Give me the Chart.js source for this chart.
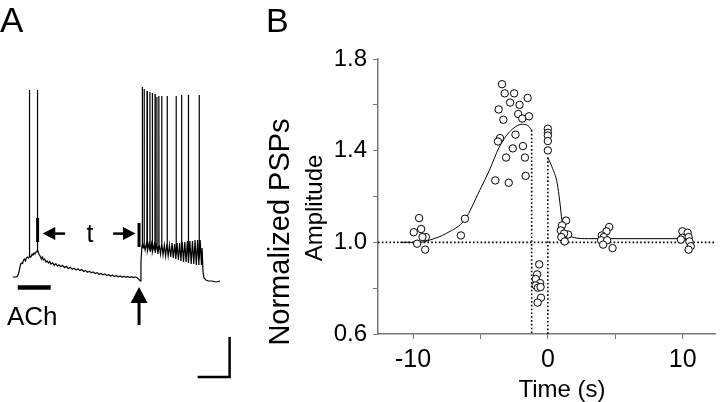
<!DOCTYPE html>
<html>
<head>
<meta charset="utf-8">
<script src="https://cdn.jsdelivr.net/npm/chart.js@4.4.1/dist/chart.umd.min.js"></script>
<style>
  html, body { margin: 0; padding: 0; background: #fff; }
  #wrap { position: relative; width: 720px; height: 402px; overflow: hidden; }
  canvas { position: absolute; top: 0; }
  #traceChart { left: 0; }
  #pspChart { left: 250px; }
</style>
</head>
<body>
<div id="wrap">
  <canvas id="traceChart" width="250" height="402"></canvas>
  <canvas id="pspChart" width="470" height="402"></canvas>
</div>
<script>
/* ---------- Panel A: membrane potential trace (s, mV) ---------- */
const traceT = [
  0.02, 0.09, 0.16, 0.2, 0.23, 0.27, 0.3, 0.33, 0.36, 0.39, 0.42, 0.45, 0.48, 0.52, 0.56, 0.59, 0.63, 0.66, 0.69, 0.72, 0.75, 0.78,
  0.81, 0.84, 0.88, 0.92, 0.95, 0.98, 1.02, 1.06, 1.1, 1.14, 1.18, 1.22, 1.27, 1.32, 1.37, 1.42, 1.47, 1.52, 1.58, 1.64, 1.7, 1.76,
  1.82, 1.88, 1.94, 2.0, 2.06, 2.12, 2.18, 2.24, 2.3, 2.36, 2.42, 2.48, 2.54, 2.6, 2.66, 2.72, 2.78, 2.84, 2.9, 2.96, 3.02, 3.08,
  3.14, 3.2, 3.26, 3.32, 3.38, 3.44, 3.5, 3.56, 3.62, 3.68, 3.74, 3.8, 3.86, 3.92, 3.97, 4.01, 4.03, 4.06,
  4.08, 4.1, 4.12, 4.16, 4.2, 4.24, 4.28, 4.32, 4.36, 4.4, 4.44, 4.48, 4.52, 4.56, 4.6, 4.64, 4.68, 4.72, 4.76, 4.8, 4.84, 4.88,
  4.92, 4.96, 5.0, 5.04, 5.08, 5.12, 5.16, 5.2, 5.24, 5.28, 5.32, 5.36, 5.4, 5.44, 5.48, 5.52, 5.56, 5.6, 5.64, 5.68, 5.72, 5.76,
  5.8, 5.84, 5.88, 5.92, 5.94, 5.97, 6.0, 6.06, 6.13, 6.25, 6.38, 6.5
];
const traceV = [
  -64.5, -64.5, -64.3, -63, -61, -58, -57.5, -57.8, -56, -55.5, -56.5, -55, -54.5, -55, -54, -54.5, -53, -53.5, -52.5, -53, -52, -51.5,
  -51, -53, -54, -55.5, -54.5, -56, -55.5, -57, -56.5, -57.5, -56.8, -58, -57.4, -58.6, -57.8, -59, -58.4, -59.3, -58.7, -59.8, -59.2, -60.3,
  -59.6, -60.6, -60.1, -61, -60.4, -61.3, -60.8, -61.7, -61.2, -62.1, -61.6, -62.4, -62, -62.8, -62.3, -63.1, -62.7, -63.4, -63, -63.7, -63.3, -64,
  -63.6, -64.2, -63.8, -64.4, -64, -64.6, -64.1, -64.7, -64.2, -64.8, -64.3, -64.8, -64.4, -65, -65.8, -66.5, -57, -49,
  -48, -50, -47.5, -51, -48, -51.5, -48, -52, -48, -52, -48.5, -52.5, -48, -53, -48.5, -53, -48, -53.5, -48.5, -54, -48, -54,
  -48.5, -54.5, -47.5, -55, -48, -55.5, -47.5, -56, -47.5, -56.5, -47, -57, -47, -57, -46.5, -57.5, -46.5, -58, -46.5, -58, -46, -58.5,
  -46, -58.5, -46, -58.5, -50, -62, -65, -66, -66.5, -66.5, -67, -66.5
];
const spikeT = [0.54, 0.79, 4.07, 4.13, 4.22, 4.31, 4.38, 4.47, 4.53, 4.59, 4.68, 4.85, 5.13, 5.30, 5.51, 5.85];
const spikeV = [29, 29, 30.5, 29.5, 28.5, 28, 27.5, 27, 25.5, 26, 26, 26, 26, 26.5, 26.5, 26.5];

/* ---------- Panel B: normalized PSP amplitude vs time ---------- */
const pspTime = [
  -9.55, -9.95, -9.4, -9.05, -9.3, -9.7, -9.1, -6.15, -6.45,
  -3.4, -3.2, -2.5, -2.8, -2.1, -1.5, -3.65, -3.3, -2.2, -1.9, -1.4, -3.55, -3.7, -2.4, -1.85, -2.6, -3.1, -1.7, -3.9, -2.9, -1.65,
  0, 0, 0, 0, 0,
  -0.64, -0.8, -0.9, -0.57, -0.9, -0.74, -0.54, -0.51, -0.76,
  1.35, 1.05, 0.96, 1.5, 1.2, 1.0, 1.25,
  4.55, 4.35, 4.0, 4.15, 3.95, 4.4, 4.1, 4.8,
  9.98, 10.37, 9.98, 10.44, 10.5, 9.87, 10.6, 10.44
];
const pspAmp = [
  1.106, 1.044, 1.058, 1.023, 1.023, 0.994, 0.968, 1.103, 1.03,
  1.69, 1.65, 1.65, 1.61, 1.60, 1.63, 1.58, 1.535, 1.56, 1.54, 1.55, 1.455, 1.44, 1.47, 1.42, 1.41, 1.37, 1.37, 1.27, 1.26, 1.29,
  1.496, 1.478, 1.466, 1.442, 1.401,
  0.904, 0.86, 0.84, 0.822, 0.812, 0.802, 0.805, 0.758, 0.737,
  1.095, 1.074, 1.052, 1.034, 1.038, 1.023, 1.004,
  1.067, 1.048, 1.03, 1.023, 1.009, 1.009, 0.99, 0.975,
  1.048, 1.042, 1.02, 1.023, 1.004, 1.012, 0.983, 0.968
];
const fitLeftT = [-10.95, -9.5, -8.75, -7.5, -6.15, -5.07, -4.34, -3.6, -2.87, -1.9, -1.5, -1.2];
const fitLeftY = [1.0, 1.0, 1.01, 1.04, 1.10, 1.225, 1.314, 1.416, 1.48, 1.515, 1.51, 1.49];
const fitRightT = [0, 0.3, 0.7, 0.88, 1.05, 1.3, 1.8, 3.0, 9.9];
const fitRightY = [1.37, 1.33, 1.256, 1.18, 1.096, 1.045, 1.023, 1.016, 1.016];
const baselineLevel = 1.0;
const windowStart = -1.2;
const windowEnd = 0;
const xTickValues = [-10, -5, 0, 5, 10];
const xTickLabels = ['-10', '', '0', '', '10'];
const yTickValues = [0.6, 0.8, 1.0, 1.2, 1.4, 1.6, 1.8];
const yTickLabels = ['0.6', '', '1.0', '', '1.4', '', '1.8'];

const FONT = '"Liberation Sans", Arial, Helvetica, sans-serif';

// line value at time t (linear between read points)
function baseAt(t) {
  for (let i = 1; i < traceT.length; i++) {
    if (traceT[i] >= t) {
      const f = (t - traceT[i - 1]) / (traceT[i] - traceT[i - 1]);
      return traceV[i - 1] + f * (traceV[i] - traceV[i - 1]);
    }
  }
  return traceV[traceV.length - 1];
}

// trace points + spikes as narrow up/down strokes
const tracePts = traceT.map((t, i) => ({ x: t, y: traceV[i] }));
spikeT.forEach((t, i) => {
  const b = baseAt(t);
  tracePts.push({ x: t - 0.004, y: b }, { x: t, y: spikeV[i] }, { x: t + 0.004, y: b });
});
tracePts.sort((a, b) => a.x - b.x);

// annotations of panel A, in data units
const annot = {
  bar1: { t: 0.80, v1: -35, v2: -47 },
  bar2: { t: 3.97, v1: -37.5, v2: -49.5 },
  arrowY: -42.8,
  leftArrow: { tip: 0.96, tail: 1.66 },
  rightArrow: { tail: 3.16, tip: 3.86 },
  tLabel: { t: 2.44, v: -47 },
  ach: { t1: 0.18, t2: 1.21, v: -69.75 },
  achLabel: { t: -0.16, v: -88.5 },
  upArrow: { t: 3.97, tip: -69.5, tail: -88.5 },
  scale: { t: 6.80, v: -114.5, dt: 1, dv: 20 }
};

const traceDecor = {
  id: 'traceDecor',
  afterDraw(chart) {
    const ctx = chart.ctx;
    const xs = chart.scales.x, ys = chart.scales.y;
    const X = v => xs.getPixelForValue(v);
    const Y = v => ys.getPixelForValue(v);
    ctx.save();
    ctx.fillStyle = '#000';
    ctx.strokeStyle = '#000';
    ctx.lineCap = 'butt';

    // panel letter
    ctx.font = '35px ' + FONT;
    ctx.textBaseline = 'alphabetic';
    ctx.fillText('A', 0, 32);

    // time markers
    ctx.lineWidth = 3;
    [annot.bar1, annot.bar2].forEach(b => {
      ctx.beginPath();
      ctx.moveTo(X(b.t), Y(b.v1));
      ctx.lineTo(X(b.t), Y(b.v2));
      ctx.stroke();
    });

    // horizontal arrows
    const ay = Y(annot.arrowY);
    function hArrow(tip, tail) {
      const xt = X(tip), xl = X(tail);
      const dir = xl > xt ? 1 : -1;
      ctx.lineWidth = 2.5;
      ctx.beginPath();
      ctx.moveTo(xt + dir * 10, ay);
      ctx.lineTo(xl, ay);
      ctx.stroke();
      ctx.beginPath();
      ctx.moveTo(xt, ay);
      ctx.lineTo(xt + dir * 12.5, ay - 6.5);
      ctx.lineTo(xt + dir * 12.5, ay + 6.5);
      ctx.closePath();
      ctx.fill();
    }
    hArrow(annot.leftArrow.tip, annot.leftArrow.tail);
    hArrow(annot.rightArrow.tip, annot.rightArrow.tail);

    ctx.font = '25px ' + FONT;
    ctx.textAlign = 'center';
    ctx.fillText('t', X(annot.tLabel.t), Y(annot.tLabel.v));

    // ACh application bar
    ctx.lineWidth = 4.5;
    ctx.beginPath();
    ctx.moveTo(X(annot.ach.t1), Y(annot.ach.v));
    ctx.lineTo(X(annot.ach.t2), Y(annot.ach.v));
    ctx.stroke();
    ctx.font = '26px ' + FONT;
    ctx.textAlign = 'left';
    ctx.fillText('ACh', X(annot.achLabel.t), Y(annot.achLabel.v));

    // stimulus arrow
    const ux = X(annot.upArrow.t), uy = Y(annot.upArrow.tip);
    ctx.lineWidth = 3;
    ctx.beginPath();
    ctx.moveTo(ux, uy + 14);
    ctx.lineTo(ux, Y(annot.upArrow.tail));
    ctx.stroke();
    ctx.beginPath();
    ctx.moveTo(ux, uy);
    ctx.lineTo(ux - 8.5, uy + 16);
    ctx.lineTo(ux + 8.5, uy + 16);
    ctx.closePath();
    ctx.fill();

    // scale bar
    const s = annot.scale;
    ctx.lineWidth = 2.5;
    ctx.beginPath();
    ctx.moveTo(X(s.t - s.dt), Y(s.v));
    ctx.lineTo(X(s.t), Y(s.v));
    ctx.lineTo(X(s.t), Y(s.v + s.dv));
    ctx.stroke();
    ctx.restore();
  }
};

new Chart(document.getElementById('traceChart'), {
  type: 'line',
  data: {
    datasets: [{
      data: tracePts,
      borderColor: '#000',
      borderWidth: 1.2,
      pointRadius: 0,
      tension: 0
    }]
  },
  options: {
    responsive: false,
    animation: false,
    layout: { padding: 0 },
    scales: {
      x: { type: 'linear', display: false, min: -0.375, max: 7.4375 },
      y: { type: 'linear', display: false, min: -127, max: 74 }
    },
    plugins: { legend: { display: false }, tooltip: { enabled: false } }
  },
  plugins: [traceDecor]
});

/* ---------- Panel B chart ---------- */
const pspDecor = {
  id: 'pspDecor',
  afterDraw(chart) {
    const ctx = chart.ctx;
    ctx.save();
    ctx.fillStyle = '#000';
    ctx.textBaseline = 'alphabetic';
    ctx.font = '34px ' + FONT;
    ctx.fillText('B', 16, 32);

    // axis titles
    ctx.textAlign = 'center';
    ctx.font = '24px ' + FONT;
    ctx.fillText('Time (s)', 312, 397);

    ctx.save();
    ctx.translate(39, 232);
    ctx.rotate(-Math.PI / 2);
    ctx.font = '29px ' + FONT;
    ctx.fillText('Normalized PSPs', 0, 0);
    ctx.restore();

    ctx.translate(72, 208);
    ctx.rotate(-Math.PI / 2);
    ctx.font = '24px ' + FONT;
    ctx.fillText('Amplitude', 0, 0);
    ctx.restore();
  }
};

const dotted = { borderColor: '#000', borderWidth: 1.6, borderDash: [1.6, 2.2], pointRadius: 0, showLine: true, order: 2 };
const fitLine = { borderColor: '#000', borderWidth: 1, pointRadius: 0, showLine: true, cubicInterpolationMode: 'monotone', order: 1 };

new Chart(document.getElementById('pspChart'), {
  type: 'scatter',
  data: {
    datasets: [
      Object.assign({ data: [{ x: -12.6, y: baselineLevel }, { x: 12.4, y: baselineLevel }] }, dotted),
      Object.assign({ data: [{ x: windowStart, y: fitLeftY[fitLeftY.length - 1] }, { x: windowStart, y: 0.6 }] }, dotted),
      Object.assign({ data: [{ x: windowEnd, y: fitRightY[0] }, { x: windowEnd, y: 0.6 }] }, dotted),
      Object.assign({ data: fitLeftT.map((t, i) => ({ x: t, y: fitLeftY[i] })) }, fitLine),
      Object.assign({ data: fitRightT.map((t, i) => ({ x: t, y: fitRightY[i] })) }, fitLine),
      {
        data: pspTime.map((t, i) => ({ x: t, y: pspAmp[i] })),
        pointRadius: 3.7,
        pointBorderWidth: 1,
        pointBorderColor: '#000',
        pointBackgroundColor: '#fff',
        showLine: false,
        order: 0
      }
    ]
  },
  options: {
    responsive: false,
    animation: false,
    layout: { padding: { top: 59, right: 2, left: 0, bottom: 0 } },
    scales: {
      x: {
        type: 'linear', min: -12.6, max: 12.4,
        afterFit: s => { s.height = 68; },
        afterBuildTicks: s => { s.ticks = xTickValues.map(v => ({ value: v })); },
        border: { color: '#777', width: 1.5 },
        grid: { drawOnChartArea: false, tickLength: 5, color: '#777' },
        ticks: {
          padding: 6, color: '#000', autoSkip: false, maxRotation: 0,
          font: { family: FONT, size: 25 },
          callback: (v, i) => xTickLabels[i]
        }
      },
      y: {
        type: 'linear', min: 0.6, max: 1.8,
        afterFit: s => { s.width = 128; },
        afterBuildTicks: s => { s.ticks = yTickValues.map(v => ({ value: v })); },
        border: { color: '#777', width: 1.5 },
        grid: { drawOnChartArea: false, tickLength: 5, color: '#777' },
        ticks: {
          padding: 6, color: '#000', autoSkip: false,
          font: { family: FONT, size: 24 },
          callback: (v, i) => yTickLabels[i]
        }
      }
    },
    plugins: { legend: { display: false }, tooltip: { enabled: false } }
  },
  plugins: [pspDecor]
});
</script>
</body>
</html>
